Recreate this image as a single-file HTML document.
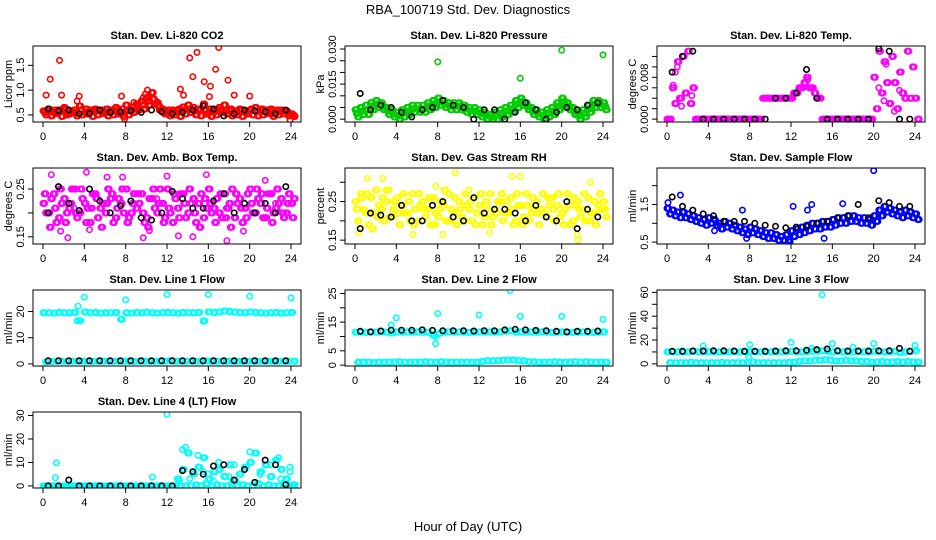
<!DOCTYPE html>
<html><head><meta charset="utf-8"><style>
html,body{margin:0;padding:0;background:#fff}
svg{display:block;font-family:"Liberation Sans",Arial,sans-serif}
</style></head><body>
<svg id="chart" width="936" height="540" viewBox="0 0 936 540">
<text x="468" y="14" text-anchor="middle" font-size="13">RBA_100719  Std. Dev. Diagnostics</text>
<text x="468" y="531" text-anchor="middle" font-size="13">Hour of Day (UTC)</text>
</svg>
<script>
// ---- data (a: series at t=i*0.5, b: at t=i*0.5+0.25, c: at t=i*0.5+0.12, black: reference series, out: [hour,value]) ----
const xTicks=[0,4,8,12,16,20,24];

const co2A=[0.58,0.62,0.55,0.6,0.65,0.52,0.6, 0.68,0.55,0.6,0.62,0.58,0.55,0.6, 0.65,0.55,0.7,0.6,0.72,0.78,0.85, 0.95,0.75,0.62,0.55,0.6,0.58,0.66, 0.7,0.65,0.6,0.72,0.55,0.6,0.65, 0.7,0.6,0.58,0.62,0.55,0.6,0.65, 0.58,0.6,0.62,0.55,0.6,0.58,0.52];
const co2B=[0.5,0.48,0.53,0.47,0.5,0.55,0.48, 0.5,0.52,0.47,0.5,0.53,0.48,0.5, 0.52,0.47,0.5,0.55,0.6,0.62,0.7, 0.72,0.6,0.52,0.48,0.5,0.47,0.52, 0.55,0.5,0.48,0.52,0.47,0.5,0.55, 0.52,0.48,0.5,0.47,0.52,0.5,0.48, 0.5,0.53,0.47,0.5,0.52,0.48,0.47];
const co2C=[0.55,0.57,0.6,0.58,0.62,0.58,0.55, 0.6,0.62,0.56,0.58,0.6,0.62,0.57, 0.6,0.62,0.58,0.65,0.68,0.7,0.78, 0.82,0.68,0.58,0.6,0.55,0.62,0.6, 0.62,0.58,0.62,0.6,0.62,0.57,0.6, 0.58,0.62,0.55,0.6,0.58,0.62,0.57, 0.62,0.56,0.58,0.6,0.57,0.55,0.5];
const co2Black=[0.62,0.58,0.6,0.52,0.53,0.6,0.55,0.56,0.58,0.55,0.6,0.56,0.52,0.55,0.6,0.68,0.62,0.48,0.52,0.6,0.58,0.56,0.52,0.6];
const co2Out=[[0.3,0.9],[0.7,1.22],[1.6,1.6],[1.8,0.9],[3.5,0.88],[7.6,0.88],[10.1,1.0],[13.3,1.02],[14.2,1.65],[14.5,1.27],[14.9,1.76],[15.6,1.17],[16.2,1.08],[16.7,1.42],[17.0,1.86],[17.9,1.2],[16.1,0.87],[18.5,0.9],[20,0.88],[23.9,0.4],[7.9,0.42],[9.7,0.85],[9.9,0.92],[10.3,0.8],[3.3,0.78],[8.8,0.75],[13.6,0.9]];

const presA=[0.004,0.005,0.006,0.007,0.008,0.007,0.005, 0.004,0.003,0.004,0.005,0.006,0.006,0.006, 0.007,0.008,0.009,0.008,0.007,0.007,0.007, 0.006,0.005,0.005,0.004,0.003,0.002,0.003, 0.004,0.005,0.006,0.008,0.009,0.007,0.005, 0.004,0.003,0.004,0.005,0.007,0.009,0.007, 0.005,0.003,0.004,0.006,0.008,0.008,0.007];
const presB=[0.001,0.002,0.002,0.004,0.005,0.004,0.002, 0.001,0.000,0.001,0.002,0.003,0.003,0.003, 0.004,0.005,0.006,0.005,0.004,0.004,0.004, 0.003,0.002,0.002,0.001,0.000,0.000,0.000, 0.001,0.002,0.003,0.005,0.006,0.004,0.002, 0.001,0.000,0.001,0.002,0.004,0.006,0.004, 0.002,0.000,0.001,0.003,0.005,0.005,0.004];
const presC=[0.0025,0.0035,0.004,0.0055,0.0065,0.0055,0.0035, 0.0025,0.0015,0.0025,0.0035,0.0045,0.0045,0.0045, 0.0055,0.0065,0.0075,0.0065,0.0055,0.0055,0.0055, 0.0045,0.0035,0.0035,0.0025,0.0015,0.001,0.0015, 0.0025,0.0035,0.0045,0.0065,0.0075,0.0055,0.0035, 0.0025,0.0015,0.0025,0.0035,0.0055,0.0075,0.0055, 0.0035,0.0015,0.0025,0.0045,0.0065,0.0065,0.0055];
const presBlack=[0.011,0.004,0.006,0.005,0.003,0.001,0.004,0.005,0.008,0.006,0.005,0.000,0.004,0.004,0.000,0.003,0.007,0.004,0.000,0.003,0.005,0.004,0.006,0.007];
const presOut=[[8,0.0245],[16,0.0175],[20,0.0295],[24,0.0275]];

const tempA=[0.0,0.006,0.011,0.012,0.013,0.006,0, 0,0,0,0,0,0,0, 0,0,0,0,0,0.004,0.004, 0.004,0.004,0.004,0.004,0.005,0.006,0.008, 0.006,0.004,0,0,0,0,0, 0,0,0,0,0,0.008,0.013, 0.011,0.003,0.007,0.009,0.004,0.004,0.004];
const tempB=[0,0.003,0.004,0.005,0.003,0,0, 0,0,0,0,0,0,0, 0,0,0,0,0.004,0.004,0.004, 0.004,0.004,0.004,0.005,0.006,0.007,0.006, 0.005,0.004,0,0,0,0,0, 0,0,0,0,0,0.002,0.005, 0.007,0.012,0.002,0.005,0.013,0.010,0];
const tempBlack=[0.009,0.012,0.013,0,0,0,0,0,0,0,0.004,0.004,0.005,0.0095,0.004,0,0,0,0,0,0.0135,0.013,0,0];
const tempOut=[[0.8,0.009],[1.0,0.010],[1.2,0.004],[2.4,0.0045],[13.6,0.0075],[20.5,0.006],[21,0.0035],[22,0.0015],[22.5,0.0055],[21.2,0.0105],[0.6,0.0065],[1.4,0.0025]];

const ambA=[0.22,0.2,0.24,0.19,0.23,0.21,0.25, 0.2,0.22,0.18,0.24,0.21,0.2,0.23, 0.19,0.22,0.25,0.2,0.21,0.24,0.19, 0.23,0.2,0.22,0.25,0.18,0.21,0.24, 0.2,0.23,0.22,0.19,0.25,0.21,0.2, 0.24,0.22,0.19,0.23,0.21,0.25,0.2, 0.22,0.19,0.24,0.21,0.23,0.2,0.22];
const ambB=[0.2,0.23,0.18,0.22,0.2,0.25,0.19, 0.23,0.21,0.24,0.19,0.22,0.25,0.18, 0.23,0.2,0.19,0.24,0.22,0.18,0.23, 0.21,0.25,0.19,0.2,0.23,0.24,0.19, 0.22,0.18,0.24,0.21,0.2,0.23,0.19, 0.21,0.25,0.22,0.18,0.24,0.2,0.23, 0.19,0.24,0.2,0.22,0.19,0.24,0.23];
const ambC=[0.24,0.17,0.21,0.25,0.18,0.22,0.2, 0.25,0.18,0.21,0.23,0.17,0.22,0.24, 0.21,0.25,0.18,0.22,0.24,0.2,0.17, 0.25,0.22,0.18,0.21,0.24,0.19,0.22, 0.25,0.2,0.17,0.23,0.22,0.18,0.24, 0.19,0.17,0.24,0.21,0.19,0.22,0.25, 0.24,0.21,0.18,0.25,0.2,0.22,0.19];
const ambBlack=[0.2,0.255,0.22,0.205,0.25,0.225,0.2,0.215,0.225,0.19,0.185,0.2,0.245,0.23,0.21,0.21,0.225,0.24,0.2,0.22,0.2,0.22,0.2,0.255];
const ambOut=[[0.8,0.28],[4.2,0.285],[6.2,0.275],[7.7,0.275],[2.4,0.148],[9.7,0.148],[10.3,0.163],[13.1,0.152],[14.5,0.15],[17.8,0.142],[12,0.277],[15.8,0.28],[4.5,0.165],[1.7,0.162],[19.4,0.162],[21.5,0.268],[3,0.21],[11,0.23],[18,0.21],[22.5,0.22]];

const rhA=[0.25,0.27,0.22,0.26,0.28,0.23,0.25, 0.21,0.26,0.24,0.22,0.27,0.2,0.25, 0.23,0.26,0.21,0.24,0.27,0.22,0.25, 0.2,0.23,0.26,0.24,0.21,0.27,0.23, 0.25,0.22,0.26,0.2,0.24,0.27,0.22, 0.25,0.23,0.21,0.26,0.24,0.22,0.27, 0.2,0.25,0.23,0.26,0.22,0.24,0.25];
const rhB=[0.2,0.23,0.19,0.22,0.24,0.2,0.21, 0.25,0.19,0.22,0.2,0.23,0.24,0.21, 0.19,0.22,0.25,0.2,0.23,0.19,0.21, 0.24,0.2,0.22,0.19,0.23,0.21,0.25, 0.2,0.22,0.19,0.24,0.21,0.2,0.23, 0.19,0.22,0.24,0.2,0.21,0.23,0.19, 0.24,0.21,0.2,0.22,0.19,0.23,0.21];
const rhC=[0.23,0.26,0.27,0.18,0.21,0.26,0.28, 0.23,0.22,0.27,0.25,0.19,0.27,0.23, 0.26,0.19,0.23,0.28,0.2,0.26,0.23, 0.27,0.25,0.19,0.27,0.25,0.19,0.22, 0.27,0.25,0.23,0.27,0.19,0.24,0.26, 0.22,0.27,0.26,0.23,0.27,0.19,0.24, 0.26,0.23,0.27,0.2,0.25,0.27,0.23];
const rhBlack=[0.18,0.22,0.215,0.21,0.24,0.2,0.2,0.24,0.25,0.21,0.2,0.26,0.22,0.23,0.23,0.22,0.2,0.24,0.21,0.2,0.25,0.18,0.23,0.21];
const rhOut=[[1.2,0.31],[2.7,0.31],[9.7,0.325],[7.8,0.29],[15.2,0.315],[16,0.315],[22.8,0.3],[21.5,0.165],[21.6,0.15],[0.4,0.17],[8.5,0.165],[23.8,0.27],[5.6,0.165],[13,0.17],[3,0.28],[11,0.28],[19,0.26]];

const flowA=[1.4,1.35,1.3,1.3,1.25,1.2,1.15, 1.1,1.15,1.1,1.0,1.05,1.0,0.95, 0.9,0.85,0.9,0.85,0.8,0.75,0.75, 0.7,0.65,0.7,0.8,0.85,0.9,0.95, 1.0,1.0,1.05,1.05,1.1,1.15,1.15, 1.2,1.2,1.15,1.15,1.1,1.2,1.35, 1.45,1.4,1.35,1.3,1.35,1.3,1.25];
const flowB=[1.25,1.2,1.15,1.15,1.1,1.05,1.0, 0.95,1.0,0.95,0.85,0.9,0.85,0.8, 0.75,0.7,0.75,0.7,0.65,0.6,0.6, 0.55,0.55,0.55,0.65,0.7,0.75,0.8, 0.85,0.85,0.9,0.9,0.95,1.0,1.0, 1.05,1.05,1.0,1.0,0.95,1.05,1.2, 1.3,1.25,1.2,1.15,1.2,1.15,1.1];
const flowBlack=[1.7,1.45,1.35,1.25,1.2,1.05,1.05,1.05,1.0,0.95,0.92,0.88,0.9,0.92,1.0,1.05,1.15,1.2,1.5,1.15,1.6,1.55,1.45,1.45];
const flowOut=[[20,2.4],[1.3,1.75],[0.1,1.55],[12.2,1.45],[13.6,1.35],[14,1.5],[7.3,1.35],[7.7,0.6],[11.9,0.5],[15.2,0.6],[17,1.52],[10.8,0.55],[4.6,0.8]];

const l1A=[19.5,19.5,19.4,19.6,19.5,19.5,19.6, 16.5,19.8,19.5,19.6,19.4,19.5,19.5, 19.6,17.0,19.5,19.4,19.6,19.5,19.7, 19.5,19.4,19.5,19.6,19.5,19.4,19.6, 19.5,19.5,19.6,16.5,19.8,19.6,19.8, 20.2,20.0,19.8,19.6,19.5,19.8,19.6, 19.5,19.4,19.5,19.6,19.4,19.5,19.6];
const l1B=[0.8,0.9,1,1,0.9,1,1, 1,1,0.9,1,1,1,1, 1,1,1,0.9,1,1,1, 1,1,1,1.2,1,1,1, 1,1,1,1.1,1,1,1, 1,1,1,1,1,1,1, 1,1,1,1,1,1,1];
const l1Black=[1.2,1.2,1.2,1.2,1.2,1.2,1.2,1.2,1.2,1.2,1.2,1.2,1.2,1.2,1.2,1.2,1.2,1.2,1.2,1.2,1.2,1.2,1.2,1.2];
const l1Out=[[4,25.5],[8,24.5],[12,26.5],[16,26.5],[20,25.8],[24,25.2],[3.4,22],[3.3,16.5],[15.5,16.2]];

const l2A=[11.5,11.5,11.4,11.6,11.5,11.6,11.5, 11.2,11.6,11.5,11.6,11.5,11.6,11.5, 11.5,10.5,11.0,11.5,11.6,11.5,11.6, 11.5,11.4,11.5,11.6,11.5,11.6,11.5, 11.6,11.8,12.0,11.5,11.6,11.5,11.6, 11.5,11.6,11.5,11.4,11.5,11.6,11.5, 11.4,11.5,11.6,11.5,11.4,11.5,11.6];
const l2B=[1,1,1,0.9,1,1,1, 1,1.2,1,1,1,1,1.2, 1,1,1.2,1,1,1,1, 1,1,1,1.3,1.5,1.5,1.6, 1.7,1.8,1.8,1.6,1.5,1.2,1.2, 1,1,1,1.2,1,1,1, 1.2,1,1.2,1,1,1.1,1];
const l2Black=[11.8,11.6,11.9,12.2,12.2,12.2,12.3,12.1,12.0,12.0,12.0,11.9,12.0,12.0,12.3,12.5,12.3,12.1,12.0,11.8,11.6,11.8,11.8,11.9];
const l2Out=[[8,18],[12,17.5],[16,17],[20,17],[24,16],[4,16.5],[3.5,14],[15,26],[7.8,7.5],[7.8,10]];

const l3A=[10,10,10.2,10,10,10.5,10, 10,10.2,10,10,10,10,10, 10,10,10.2,10,10,10,10, 10,10,10,10.5,10,10,10, 10.5,10.5,11,10.5,10,10.5,10, 10,10,10.2,10,10,10.5,10, 10,10,10.5,9.5,10,10.5,11];
const l3B=[1,1,1,1,1.2,1,1, 1,1,1,1.2,1,1,1, 1,1,1.5,1,1,1,1, 1,1,1.2,1.5,2,2.5,2.5, 3,3,3.5,3,2.5,2.5,3, 2.5,2.5,2,2,1.5,1.5,2, 1.5,1.5,2,1.5,2,1.5,1.5];
const l3Black=[10.5,10.5,10.8,10.8,11,11,10.8,10.5,10.5,10.5,10.8,11,11,11.5,12,12.5,11,10.8,10.8,10.8,11,11,13,10.5];
const l3Out=[[15,58],[8,16],[12,18],[16,17],[20,17],[24,15.5],[3.5,15],[7.9,5.5],[14,13],[18,14]];

const l4A=[0,0,0,0,0,0,0, 0,0,0,0,0,0,0, 0,0,0,0,0,0,0, 0,0,0,0,0,3,7, 14,5,8,12,3,6,7, 4,9,2,5,8,10,14, 6,9,4,11,7,3,0];
const l4B=[0,0,0,0,0,0,0, 0,0,0,0,0,0,0, 0,0,0,0,0,0,0, 0,0,0,0,0,0,0, 0,0.5,0,1,0,0.5,0, 0,1,0,0.5,0,0,1, 0,0.5,0,0,1,0,0.5];
const l4Black=[0,0,2.5,0,0,0,0,0,0,0,0,0,0,6.5,6,5,8.5,9,2.5,7,1.5,11,9,0.5];
const l4Out=[[1.3,9.8],[1.2,3.5],[10.6,3.8],[12,30.5],[13.5,15.5],[13.8,16.5],[15,13],[17,10],[20,14.5],[22.8,12],[23.9,8],[23.9,6],[22,9],[16,5],[14.2,3],[15.5,6],[18,4],[19.5,7],[21,5],[23,3],[16.5,2],[18.5,9],[13.2,2]];

// ---- layout (geometry, not data) ----
const cols=[33,345,657], colW=268;
const rows=[46,168,290,412], rowH=76;
const panels=[
 {title:"Stan. Dev. Li-820 CO2",ylab:"Licor ppm",c:0,r:0,y0:0.357,y1:1.89,ticks:[0.5,1.0,1.5],labels:["0.5","1.0","1.5"],col:"#ff0000",a:co2A,b:co2B,cc:co2C,k:co2Black,o:co2Out},
 {title:"Stan. Dev. Li-820 Pressure",ylab:"kPa",c:1,r:0,y0:-0.0012,y1:0.0313,ticks:[0,0.005,0.01,0.015,0.02,0.025,0.03],labels:["0.000","","","0.015","","","0.030"],col:"#00cd00",a:presA,b:presB,cc:presC,k:presBlack,o:presOut},
 {title:"Stan. Dev. Li-820 Temp.",ylab:"degrees C",c:2,r:0,y0:-0.00055,y1:0.014,ticks:[0,0.002,0.004,0.006,0.008,0.010,0.012],labels:["0.000","","","","0.008","",""],col:"#ff00ff",a:tempA,b:tempB,cc:[],k:tempBlack,o:tempOut},
 {title:"Stan. Dev. Amb. Box Temp.",ylab:"degrees C",c:0,r:1,y0:0.135,y1:0.294,ticks:[0.15,0.2,0.25],labels:["0.15","","0.25"],col:"#ff00ff",a:ambA,b:ambB,cc:ambC,k:ambBlack,o:ambOut},
 {title:"Stan. Dev. Gas Stream RH",ylab:"percent",c:1,r:1,y0:0.14,y1:0.337,ticks:[0.15,0.2,0.25,0.3],labels:["0.15","","0.25",""],col:"#ffff00",a:rhA,b:rhB,cc:rhC,k:rhBlack,o:rhOut},
 {title:"Stan. Dev. Sample Flow",ylab:"ml/min",c:2,r:1,y0:0.45,y1:2.47,ticks:[0.5,1.0,1.5,2.0],labels:["0.5","","1.5",""],col:"#0000ff",a:flowA,b:flowB,cc:[],k:flowBlack,o:flowOut},
 {title:"Stan. Dev. Line 1 Flow",ylab:"ml/min",c:0,r:2,y0:-0.8,y1:28.2,ticks:[0,10,20],labels:["0","10","20"],col:"#00ffff",a:l1A,b:l1B,cc:[],k:l1Black,o:l1Out},
 {title:"Stan. Dev. Line 2 Flow",ylab:"ml/min",c:1,r:2,y0:-0.3,y1:26.2,ticks:[0,5,10,15,20,25],labels:["0","5","","15","","25"],col:"#00ffff",a:l2A,b:l2B,cc:[],k:l2Black,o:l2Out},
 {title:"Stan. Dev. Line 3 Flow",ylab:"ml/min",c:2,r:2,y0:-1.8,y1:62,ticks:[0,10,20,30,40,50,60],labels:["0","","20","","40","","60"],col:"#00ffff",a:l3A,b:l3B,cc:[],k:l3Black,o:l3Out},
 {title:"Stan. Dev. Line 4 (LT) Flow",ylab:"ml/min",c:0,r:3,y0:-0.9,y1:31.5,ticks:[0,10,20,30],labels:["0","10","20","30"],col:"#00ffff",a:l4A,b:l4B,cc:[],k:l4Black,o:l4Out}
];

const NS="http://www.w3.org/2000/svg";
const svg=document.getElementById('chart');
function mk(tag,attrs,parent){const e=document.createElementNS(NS,tag);for(const k in attrs)e.setAttribute(k,attrs[k]);(parent||svg).appendChild(e);return e;}
function pt(g,x,y,col){
 const c=mk('circle',{cx:x.toFixed(1),cy:y.toFixed(1),r:2.7,fill:'none',stroke:col,'stroke-width':1.6},g);
 
 
}
// each half-hour value represents a cluster of samples spread across its slot
const slot=[0,0.08,0.16];
panels.forEach((p,pi)=>{
 const L=cols[p.c],T=rows[p.r],W=colW,H=rowH;
 const g=mk('g',{});
 
 
 const xs=v=>L+10+v/24*(W-20);
 const ys=v=>T+H-(v-p.y0)/(p.y1-p.y0)*H;
 const clip=mk('clipPath',{id:'cl'+pi},g);
 mk('rect',{x:L,y:T,width:W,height:H},clip);
 const pts=mk('g',{'clip-path':'url(#cl'+pi+')'},g);
 
 
 p.a.forEach((v,i)=>slot.forEach(s=>pt(pts,xs(i*0.5+s),ys(v),p.col)));
 p.b.forEach((v,i)=>slot.forEach(s=>pt(pts,xs(i*0.5+0.25+s),ys(v),p.col)));
 p.cc.forEach((v,i)=>slot.forEach(s=>pt(pts,xs(i*0.5+0.12+s),ys(v),p.col)));
 p.o.forEach(d=>pt(pts,xs(d[0]),ys(d[1]),p.col));
 p.k.forEach((v,i)=>pt(pts,xs(i+0.5),ys(v),'#000'));
 const box=mk('rect',{x:L,y:T,width:W,height:H,fill:'none',stroke:'#000','stroke-width':1},g);
 
 
 const tt=mk('text',{x:L+W/2,y:T-7,'text-anchor':'middle','font-size':11,'font-weight':'bold'},g);
 tt.textContent=p.title;
 
 
 xTicks.forEach(t=>{
  const x=xs(t);
  mk('line',{x1:x,x2:x,y1:T+H,y2:T+H+5,stroke:'#000'},g);
  const tx=mk('text',{x:x,y:T+H+18,'text-anchor':'middle','font-size':11},g);
  tx.textContent=t;
  
  
 });
 p.ticks.forEach((t,i)=>{
  const y=ys(t);
  mk('line',{x1:L-5,x2:L,y1:y,y2:y,stroke:'#000'},g);
  if(p.labels[i]){
   const ty=mk('text',{x:0,y:0,'text-anchor':'middle','font-size':11,transform:`translate(${L-9},${y}) rotate(-90)`},g);
   ty.textContent=p.labels[i];
   
   
  }
 });
 const yl=mk('text',{x:0,y:0,'text-anchor':'middle','font-size':11,transform:`translate(${L-21},${T+H/2}) rotate(-90)`},g);
 yl.textContent=p.ylab;
 
 
});
</script>
</body></html>
